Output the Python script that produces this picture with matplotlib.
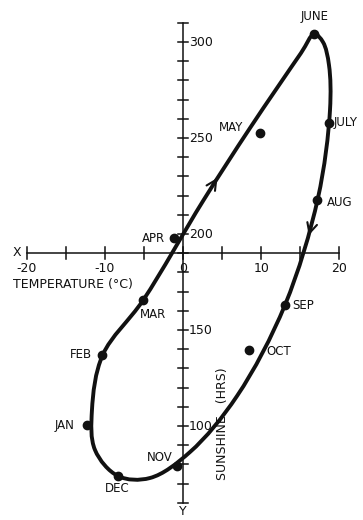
import numpy as np
import matplotlib
matplotlib.use("Agg")
import matplotlib.pyplot as plt
from matplotlib.path import Path
from matplotlib.patches import PathPatch

# Monthly mean temperature (C) and sunshine (hours)
months = ["JAN", "FEB", "MAR", "APR", "MAY", "JUNE",
          "JULY", "AUG", "SEP", "OCT", "NOV", "DEC"]
temperature = [-12.3, -10.3, -5.1, -1.2, 9.9, 16.8,
               18.7, 17.2, 13.0, 8.5, -0.8, -8.3]
sunshine = [100.5, 137.0, 165.6, 198.0, 252.4, 304.0,
            258.0, 217.7, 163.0, 139.6, 79.2, 74.0]

# hand drawn loop, knots (clockwise from June)
loop_temp = [16.79, 17.9, 18.67, 18.8, 17.26, 13.04, 6.91, 0.9, -4.22,
             -8.31, -11.25, -11.64, -10.27, -5.08, 2.56, 8.57, 15.09]
loop_sun = [304.17, 300.0, 288.02, 264.58, 218.75, 163.02, 115.63, 86.46, 72.92,
            73.96, 87.5, 108.33, 136.98, 165.63, 217.19, 255.21, 294.27]

x_ticks = [-20, -10, 0, 10, 20]
y_ticks = [100, 150, 200, 250, 300]

FONT = ["DejaVu Sans"]
INK = "#111111"


def closed_smooth_path(xs, ys, sx=7.82, sy=1.92, alpha=0.5):
    # centripetal catmull-rom knots -> cubic bezier segments (closed loop)
    pts = np.column_stack([np.asarray(xs) * sx, np.asarray(ys) * sy])
    n = len(pts)
    verts = [pts[0]]
    codes = [Path.MOVETO]
    for i in range(n):
        p0, p1, p2, p3 = pts[i - 1], pts[i], pts[(i + 1) % n], pts[(i + 2) % n]
        d1 = np.linalg.norm(p1 - p0) ** alpha
        d2 = np.linalg.norm(p2 - p1) ** alpha
        d3 = np.linalg.norm(p3 - p2) ** alpha
        m1 = ((p1 - p0) / d1 - (p2 - p0) / (d1 + d2) + (p2 - p1) / d2) * d2
        m2 = ((p2 - p1) / d2 - (p3 - p1) / (d2 + d3) + (p3 - p2) / d3) * d2
        verts += [p1 + m1 / 3.0, p2 - m2 / 3.0, p2]
        codes += [Path.CURVE4, Path.CURVE4, Path.CURVE4]
    verts = np.array(verts) / [sx, sy]
    return Path(verts, codes)


fig = plt.figure(figsize=(3.63, 5.2), dpi=100)
ax = fig.add_axes([0, 0, 1, 1])
ax.set_xlim(-23.4, 23.02)
ax.set_ylim(51.04, 321.9)
ax.axis("off")

x_axis_at = 190.3

# X axis with ticks every 5
ax.plot([-20, 20], [x_axis_at, x_axis_at], color=INK, lw=1.1)
for t in range(-20, 21, 5):
    ax.plot([t, t], [x_axis_at - 3.2, x_axis_at + 3.2], color=INK, lw=1.1)
for t in x_ticks:
    ax.text(t, x_axis_at - 8, f"{t}", ha="center", va="center",
            fontsize=9, family=FONT, color=INK)

# Y axis with ticks every 10
ax.plot([0, 0], [60, 310], color=INK, lw=1.1)
for s in range(60, 311, 10):
    ax.plot([-0.6, 0.6], [s, s], color=INK, lw=1.1)
for s in y_ticks:
    ax.text(0.75, s, f"{s}", ha="left", va="center", fontsize=9, family=FONT, color=INK)

ax.text(-21.2, x_axis_at, "X", ha="center", va="center", fontsize=9, family=FONT, color=INK)
ax.text(0, 55.5, "Y", ha="center", va="center", fontsize=9, family=FONT, color=INK)
ax.text(-21.8, x_axis_at - 16.5, "TEMPERATURE (\u00b0C)", ha="left", va="center",
        fontsize=9, family=FONT, color=INK)
ax.text(5.0, 101, "SUNSHINE   (HRS)", ha="center", va="center", rotation=90,
        fontsize=9, family=FONT, color=INK)

# the loop
loop = closed_smooth_path(loop_temp, loop_sun)
ax.add_patch(PathPatch(loop, fill=False, lw=2.8, edgecolor=INK, joinstyle="round"))

# direction arrows
ax.annotate("", xy=(4.6, 230.5), xytext=(3.32, 222.4),
            arrowprops=dict(arrowstyle="->", lw=1.5, color=INK, mutation_scale=18))
ax.annotate("", xy=(15.98, 197.9), xytext=(16.5, 205.2),
            arrowprops=dict(arrowstyle="->", lw=1.5, color=INK, mutation_scale=18))

# month points
ax.plot(temperature, sunshine, "o", color=INK, ms=6, zorder=5)

label_pos = {
    "JAN": (-1.6, 0, "right", "center"),
    "FEB": (-1.3, 0, "right", "center"),
    "MAR": (-0.4, -7.5, "left", "center"),
    "APR": (-1.1, -0.5, "right", "center"),
    "MAY": (-2.2, 3.2, "right", "center"),
    "JUNE": (0.0, 9.5, "center", "center"),
    "JULY": (0.6, 0, "left", "center"),
    "AUG": (1.2, -1.5, "left", "center"),
    "SEP": (1.0, 0, "left", "center"),
    "OCT": (2.1, -1.0, "left", "center"),
    "NOV": (-0.5, 4.2, "right", "center"),
    "DEC": (-0.1, -6.5, "center", "center"),
}
for m, t, s in zip(months, temperature, sunshine):
    dx, dy, ha, va = label_pos[m]
    ax.text(t + dx, s + dy, m, ha=ha, va=va, fontsize=8.5, family=FONT, color=INK)

fig.savefig("out.png", dpi=100)
